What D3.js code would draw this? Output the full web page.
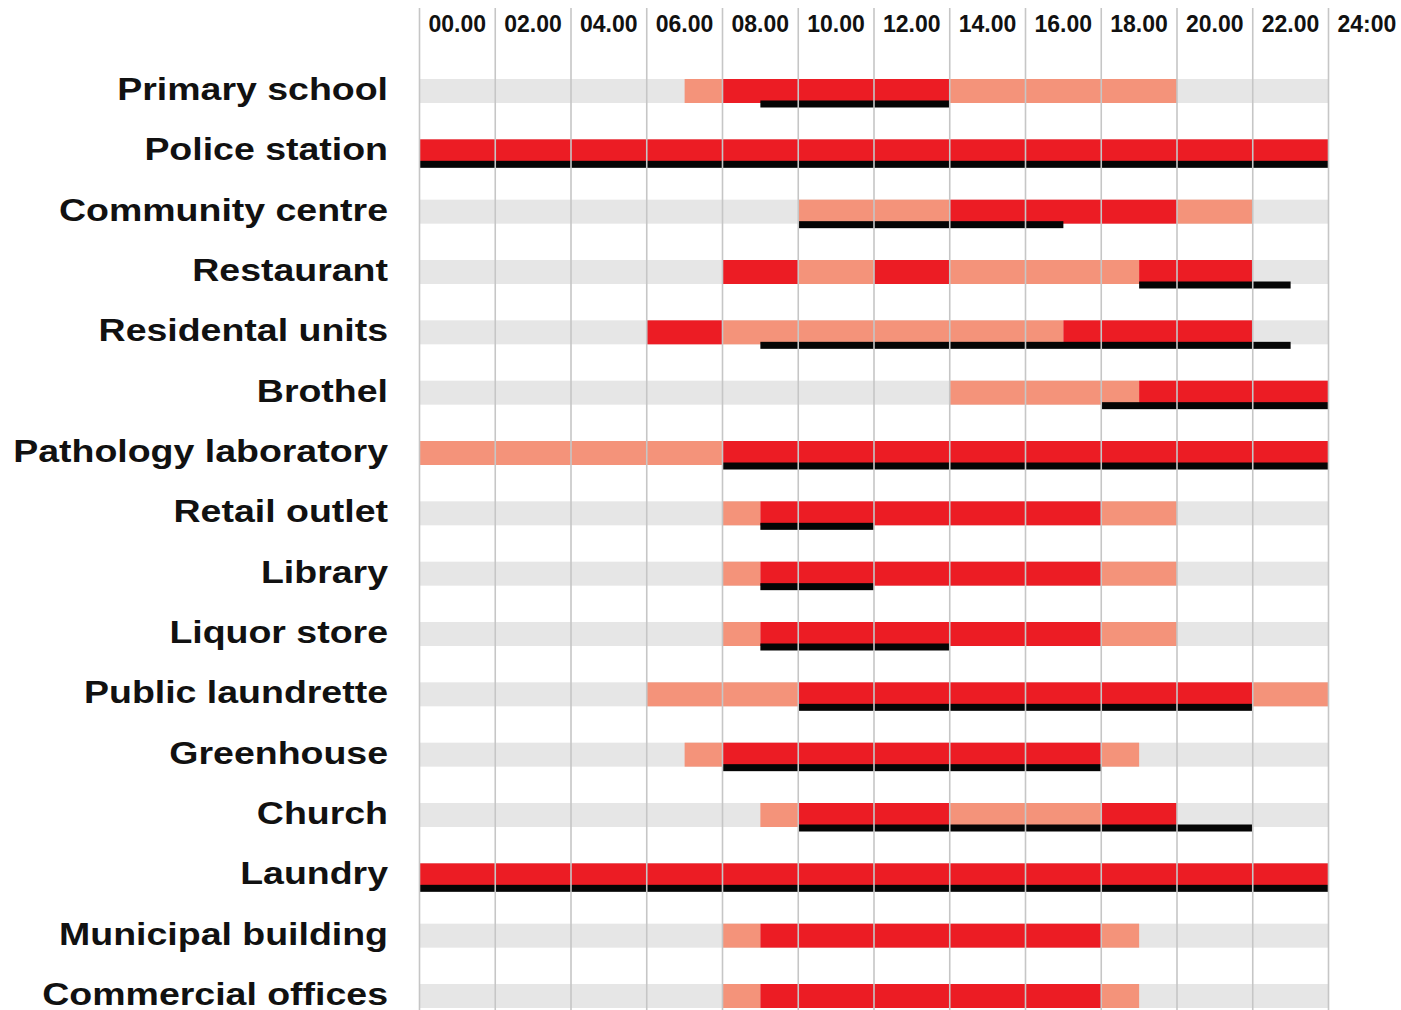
<!DOCTYPE html>
<html>
<head>
<meta charset="utf-8">
<script src="https://cdn.jsdelivr.net/npm/d3@7"></script>
<style>
  html, body { margin: 0; padding: 0; background: #fff; }
  svg { display: block; }
</style>
</head>
<body>
<svg id="chart" width="1401" height="1010"></svg>
<script>
// ---- data ----
const categories = [
  "Primary school", "Police station", "Community centre", "Restaurant",
  "Residental units", "Brothel", "Pathology laboratory", "Retail outlet",
  "Library", "Liquor store", "Public laundrette", "Greenhouse",
  "Church", "Laundry", "Municipal building", "Commercial offices"
];
const tickHours = [0, 2, 4, 6, 8, 10, 12, 14, 16, 18, 20, 22, 24];
const tickLabels = ["00.00", "02.00", "04.00", "06.00", "08.00", "10.00", "12.00",
                    "14.00", "16.00", "18.00", "20.00", "22.00", "24:00"];
// red spans (hours)
const peakSpans = [
  [[8, 14]], [[0, 24]], [[14, 20]], [[8, 10], [12, 14], [19, 22]],
  [[6, 8], [17, 22]], [[19, 24]], [[8, 24]], [[9, 18]],
  [[9, 18]], [[9, 18]], [[10, 22]], [[8, 18]],
  [[10, 14], [18, 20]], [[0, 24]], [[9, 18]], [[9, 18]]
];
// salmon spans (hours)
const lightSpans = [
  [[7, 8], [14, 20]], [], [[10, 14], [20, 22]], [[10, 12], [14, 19]],
  [[8, 17]], [[14, 19]], [[0, 8]], [[8, 9], [18, 20]],
  [[8, 9], [18, 20]], [[8, 9], [18, 20]], [[6, 10], [22, 24]], [[7, 8], [18, 19]],
  [[9, 10], [14, 18]], [], [[8, 9], [18, 19]], [[8, 9], [18, 19]]
];
// black underline spans (hours)
const lineSpans = [
  [[9, 14]], [[0, 24]], [[10, 17]], [[19, 23]],
  [[9, 23]], [[18, 24]], [[8, 24]], [[9, 12]],
  [[9, 12]], [[9, 14]], [[10, 22]], [[8, 18]],
  [[10, 22]], [[0, 24]], [], []
];

// ---- drawing ----
const svg = d3.select("#chart");
svg.append("rect").attr("width", 1401).attr("height", 1010).attr("fill", "#fff");

const x = d3.scaleLinear().domain([0, 24]).range([419.5, 1328.5]);
const y = d3.scalePoint().domain(categories).range([79, 984]);
const barH = 24;

const rows = categories.map((c, i) => ({
  name: c, peak: peakSpans[i], light: lightSpans[i], line: lineSpans[i]
}));

// grey background bands
svg.append("g").selectAll("rect").data(rows).join("rect")
  .attr("x", x(0)).attr("width", x(24) - x(0))
  .attr("y", d => y(d.name)).attr("height", barH)
  .attr("fill", "#e6e6e6");

function spans(key, color, dy, h) {
  const flat = [];
  rows.forEach(r => r[key].forEach(s => flat.push({ name: r.name, s })));
  svg.append("g").selectAll("rect").data(flat).join("rect")
    .attr("x", d => x(d.s[0])).attr("width", d => x(d.s[1]) - x(d.s[0]))
    .attr("y", d => y(d.name) + dy).attr("height", h)
    .attr("fill", color);
}
spans("light", "#f4937a", 0, barH);
spans("peak", "#ec1c24", 0, barH);
spans("line", "#050505", 21.5, 7);

// vertical grid lines
svg.append("g").selectAll("line").data(tickHours).join("line")
  .attr("x1", d => x(d)).attr("x2", d => x(d))
  .attr("y1", 8).attr("y2", 1010)
  .attr("stroke", "#c6c6c6").attr("stroke-width", 1.6);

// top tick labels
svg.append("g").selectAll("text").data(tickHours).join("text")
  .attr("x", d => x(d) + 9).attr("y", 32)
  .attr("font-family", "'Liberation Sans', Arial, sans-serif")
  .attr("font-weight", "bold").attr("font-size", 23)
  .attr("fill", "#111")
  .text((d, i) => tickLabels[i]);

// row labels
svg.append("g").selectAll("text").data(categories).join("text")
  .attr("transform", d => `translate(388,${y(d) + barH / 2 + 9}) scale(1.19,1)`)
  .attr("text-anchor", "end")
  .attr("font-family", "'Liberation Sans', Arial, sans-serif")
  .attr("font-weight", "bold").attr("font-size", 31.5)
  .attr("fill", "#111")
  .text(d => d);
</script>
</body>
</html>
